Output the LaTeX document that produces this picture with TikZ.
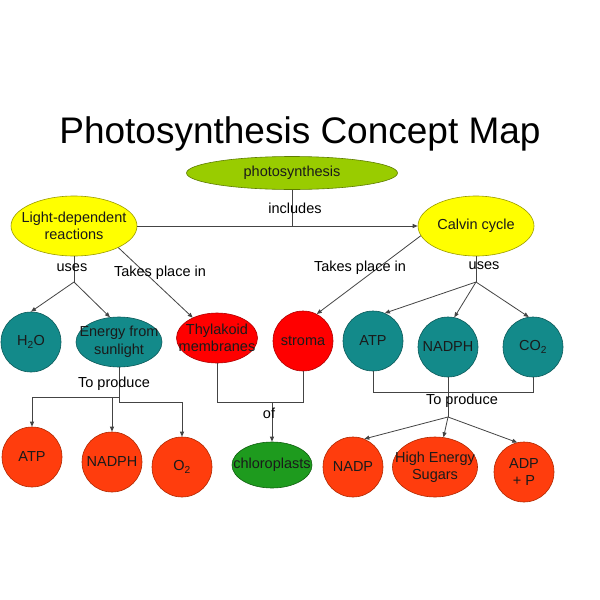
\documentclass[tikz,border=0pt]{standalone}
\usepackage{fontspec}
\setmainfont{Liberation Sans}
\usetikzlibrary{shapes.geometric,arrows.meta}
\definecolor{teal2}{HTML}{138A8A}
\definecolor{tealb}{HTML}{0B5A5A}
\definecolor{red2}{HTML}{FF0000}
\definecolor{redb}{HTML}{B00000}
\definecolor{orng}{HTML}{FF3D0D}
\definecolor{orngb}{HTML}{B02800}
\definecolor{grn}{HTML}{1E9B1E}
\definecolor{grnb}{HTML}{0E5E0E}
\definecolor{lime2}{HTML}{99CC00}
\definecolor{limeb}{HTML}{5E7D00}
\definecolor{yel}{HTML}{FFFF00}
\definecolor{yelb}{HTML}{9A9A00}
\definecolor{lin}{HTML}{444444}
\definecolor{txt}{HTML}{1A1A1A}
\tikzset{
  shp/.style={draw, line width=0.6pt, inner sep=0pt, text=txt,
    font=\fontsize{14.5}{17.5}\selectfont},
  circ/.style={shp, circle, minimum size=60pt},
  ell/.style n args={2}{shp, ellipse, minimum width=#1, minimum height=#2},
  tealn/.style={fill=teal2, draw=tealb},
  redn/.style={fill=red2, draw=redb},
  orn/.style={fill=orng, draw=orngb},
  inside/.style={label={[align=center, text=txt, font=\fontsize{14.5}{17.5}\selectfont]center:#1}},
  conn/.style={draw=lin, line width=0.8pt},
  arr/.style={conn, -{Triangle[length=5pt,width=4pt]}},
  lbl/.style={font=\fontsize{14.5}{17.5}\selectfont, text=black, inner sep=1pt},
}
\begin{document}
\begin{tikzpicture}[x=1pt,y=-1pt]
\useasboundingbox[fill=white] (0,0) rectangle (600,600);
\node[font=\fontsize{37}{40}\selectfont] (title) at (300,134) {Photosynthesis Concept Map};

% top level
\node[ell={211pt}{33pt}, fill=lime2, draw=limeb, inside={photosynthesis}] (ps) at (292,173) {};
\node[ell={126pt}{60pt}, fill=yel, draw=yelb, inside={Light-dependent\\reactions}] (ld) at (74,226) {};
\node[ell={116pt}{60pt}, fill=yel, draw=yelb, inside={Calvin cycle}] (cc) at (476,226) {};

% middle row
\node[circ, tealn, inside={H\textsubscript{2}O}] (h2o) at (31,342) {};
\node[ell={86pt}{50pt}, tealn, inside={Energy from\\sunlight}] (en) at (119,342) {};
\node[ell={81pt}{50pt}, redn, inside={Thylakoid\\membranes}] (thy) at (217,338) {};
\node[circ, redn, inside={stroma}] (st) at (303,341) {};
\node[circ, tealn, inside={ATP}] (atpb) at (373,341) {};
\node[circ, tealn, inside={NADPH}] (nadphb) at (448,347) {};
\node[circ, tealn, inside={CO\textsubscript{2}}] (co2) at (533,347) {};

% bottom row
\node[circ, orn, inside={ATP}] (atpa) at (32,457) {};
\node[circ, orn, inside={NADPH}] (nadpha) at (112,462) {};
\node[circ, orn, inside={O\textsubscript{2}}] (o2) at (182,467) {};
\node[ell={80pt}{46pt}, fill=grn, draw=grnb, inside={chloroplasts}] (chl) at (272,465) {};
\node[circ, orn, inside={NADP}] (nadp) at (353,467) {};
\node[ell={85pt}{60pt}, orn, inside={High Energy\\Sugars}] (hes) at (435,467) {};
\node[circ, orn, inside={ADP\\+ P}] (adp) at (524,472) {};

% coordinates
\coordinate (inc) at (292,226);
\coordinate (ldu) at (74,282);
\coordinate (ccu) at (476,282);
\coordinate (lpa) at (119,397);
\coordinate (lpb) at (119,402);
\coordinate (lpn) at (112,397);
\coordinate (thyb) at (217,402);
\coordinate (stb) at (303,402);
\coordinate (ofc) at (272,402);
\coordinate (cpl) at (373,392);
\coordinate (cpr) at (533,392);
\coordinate (cpd) at (448,417);

% connectors top
\draw[conn] (ps.south) -- (inc);
\draw[arr] (ld.east) -- (cc.west);
\node[lbl] (linc) at (295,208) {includes};

\draw[conn] (ld.south) -- (ldu);
\draw[arr] (ldu) -- (h2o.north);
\draw[arr] (ldu) -- (en.110);
\node[lbl] (luses1) at (72,268) {uses};
\draw[arr] (ld.-26) -- (thy.140);
\node[lbl] (ltp1) at (160,273) {Takes place in};

\draw[arr] (cc.190) -- (st.63);
\node[lbl] (ltp2) at (360,268) {Takes place in};
\draw[conn] (cc.south) -- (ccu);
\node[lbl] (luses2) at (484,266) {uses};
\draw[arr] (ccu) -- (atpb.67);
\draw[arr] (ccu) -- (nadphb.78);
\draw[arr] (ccu) -- (co2.98);

% light produce
\draw[conn] (en.south) -- (lpb);
\draw[arr] (lpa) -| (atpa.north);
\draw[arr] (lpn) -- (nadpha.north);
\draw[arr] (lpb) -| (o2.north);
\node[lbl] (lprod1) at (114,384) {To produce};

% of
\draw[conn] (thy.south) -- (thyb) -- (stb) -- (st.south);
\draw[arr] (ofc) -- (chl.north);
\node[lbl] (lof) at (269,413) {of};

% calvin produce
\draw[conn] (atpb.south) -- (cpl) -- (cpr) -- (co2.south);
\draw[conn] (nadphb.south) -- (cpd);
\draw[arr] (cpd) -- (nadp.68);
\draw[arr] (cpd) -- (hes.74);
\draw[arr] (cpd) -- (adp.103);
\node[lbl] (lprod2) at (462,401) {To produce};
\end{tikzpicture}
\end{document}
